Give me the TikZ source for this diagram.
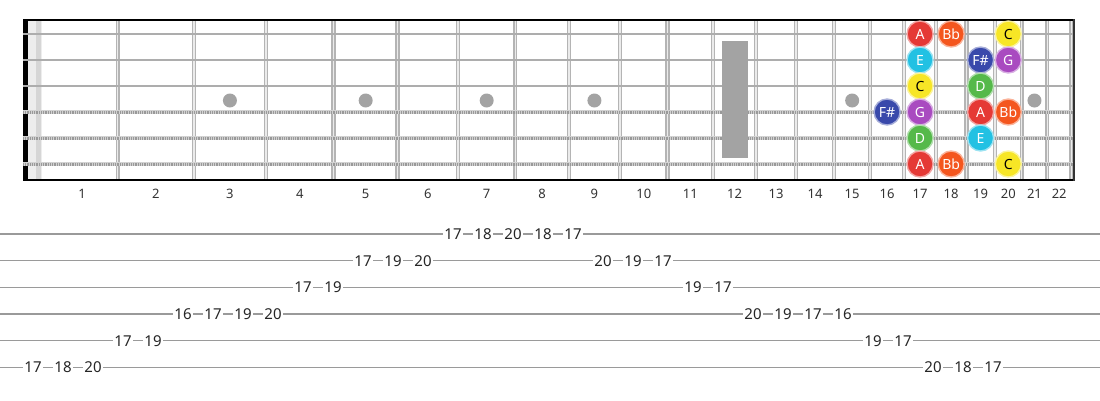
\documentclass[tikz,border=0pt]{standalone}
\usepackage{fontspec}
\setmainfont{Noto Sans}
\definecolor{nA}{HTML}{E53935}
\definecolor{nBb}{HTML}{F4561E}
\definecolor{nC}{HTML}{F7E626}
\definecolor{nE}{HTML}{22C1E3}
\definecolor{nFs}{HTML}{3949AB}
\definecolor{nG}{HTML}{A94BC0}
\definecolor{nD}{HTML}{55B94A}
\definecolor{fretgray}{HTML}{B4B4B4}
\definecolor{strgray}{HTML}{ADADAD}
\definecolor{inlay}{HTML}{A3A3A3}
\definecolor{tabline}{HTML}{9A9A9A}
\tikzset{
  fretouter/.style={draw=fretgray, line width=4.5pt},
  fretinner/.style={draw=white!92!black, line width=1.4pt},
  plainstr/.style={draw=strgray, line width=2.2pt},
  woundbase/.style={draw=gray!35, line width=4pt},
  woundtick/.style={draw=gray!80, line width=3pt, dash pattern=on 0.9pt off 0.9pt},
  notedot/.style={circle, minimum size=26pt, inner sep=0pt, line width=1.4pt, font=\fontsize{14}{14}\selectfont},
  fretnum/.style={font=\fontsize{13}{13}\selectfont, text=black!80},
  tabnum/.style={font=\fontsize{15}{15}\selectfont, text=black!85, fill=white, inner sep=1.2pt}
}
\begin{document}
\begin{tikzpicture}[x=1pt,y=-1pt]
\useasboundingbox[fill=white] (0,0) rectangle (1100,400);
% frets
\foreach \n in {1,...,22} {
  \pgfmathsetmacro\fx{37.5+1437*(1-2^(-\n/12))}
  \draw[fretouter] (\fx,20) -- (\fx,180);
  \draw[fretinner] (\fx,20) -- (\fx,180);
}
% inlay dots
\foreach \f in {3,5,7,9,15,21} {
  \pgfmathsetmacro\mx{37.5+1437*(1-0.5*(2^(-(\f-1)/12)+2^(-\f/12)))}
  \fill[inlay] (\mx,100.5) circle (7pt);
}
% nut light bars
\fill[gray!14] (28,19) rectangle (42,181);
\fill[gray!32] (36,19) rectangle (41,181);
% nut black bar
\fill[black] (23,19) rectangle (28,181);
% strings
\foreach \s in {1,2,3} {
  \draw[plainstr] (23,{34+26*(\s-1)}) -- (1073,{34+26*(\s-1)});
}
\foreach \s in {4,5,6} {
  \draw[woundbase] (23,{34+26*(\s-1)}) -- (1073,{34+26*(\s-1)});
  \draw[woundtick] (23,{34+26*(\s-1)}) -- (1073,{34+26*(\s-1)});
}
% 12th fret marker
\fill[inlay] (722,41) rectangle (748,158);
% borders
\draw[black, line width=1.6pt] (23,19.8) -- (1075,19.8);
\draw[black, line width=1.6pt] (23,180.2) -- (1075,180.2);
\draw[black!80, line width=2.2pt] (1074,19) -- (1074,181);
% fret numbers
\foreach \n in {1,...,22} {
  \pgfmathsetmacro\mx{ifthenelse(\n==1,82,37.5+1437*(1-0.5*(2^(-(\n-1)/12)+2^(-\n/12))))}
  \node[fretnum] (fn\n) at (\mx,194) {\n};
}
% notes
\foreach \f/\s/\t/\c/\tc in {17/1/A/nA/white, 18/1/Bb/nBb/white, 20/1/C/nC/black, 17/2/E/nE/white, 19/2/F\#/nFs/white, 20/2/G/nG/white, 17/3/C/nC/black, 19/3/D/nD/white, 16/4/F\#/nFs/white, 17/4/G/nG/white, 19/4/A/nA/white, 20/4/Bb/nBb/white, 17/5/D/nD/white, 19/5/E/nE/white, 17/6/A/nA/white, 18/6/Bb/nBb/white, 20/6/C/nC/black} {
  \pgfmathsetmacro\mx{37.5+1437*(1-0.5*(2^(-(\f-1)/12)+2^(-\f/12)))}
  \node[notedot, fill=\c, draw=\c!45!white, text=\tc] (n\f-\s) at (\mx,{34+26*(\s-1)}) {\t};
}
% tab lines
\foreach \l in {1,...,6} {
  \draw[tabline, line width=1.6pt] (0,{234+26.67*(\l-1)}) -- (1100,{234+26.67*(\l-1)});
}
% tab numbers
\foreach \k/\l/\t in {0/6/17, 1/6/18, 2/6/20, 3/5/17, 4/5/19, 5/4/16, 6/4/17, 7/4/19, 8/4/20, 9/3/17, 10/3/19, 11/2/17, 12/2/19, 13/2/20, 14/1/17, 15/1/18, 16/1/20, 17/1/18, 18/1/17, 19/2/20, 20/2/19, 21/2/17, 22/3/19, 23/3/17, 24/4/20, 25/4/19, 26/4/17, 27/4/16, 28/5/19, 29/5/17, 30/6/20, 31/6/18, 32/6/17} {
  \node[tabnum] (t\k) at ({33+30*\k},{234+26.67*(\l-1)}) {\t};
}
\end{tikzpicture}
\end{document}
